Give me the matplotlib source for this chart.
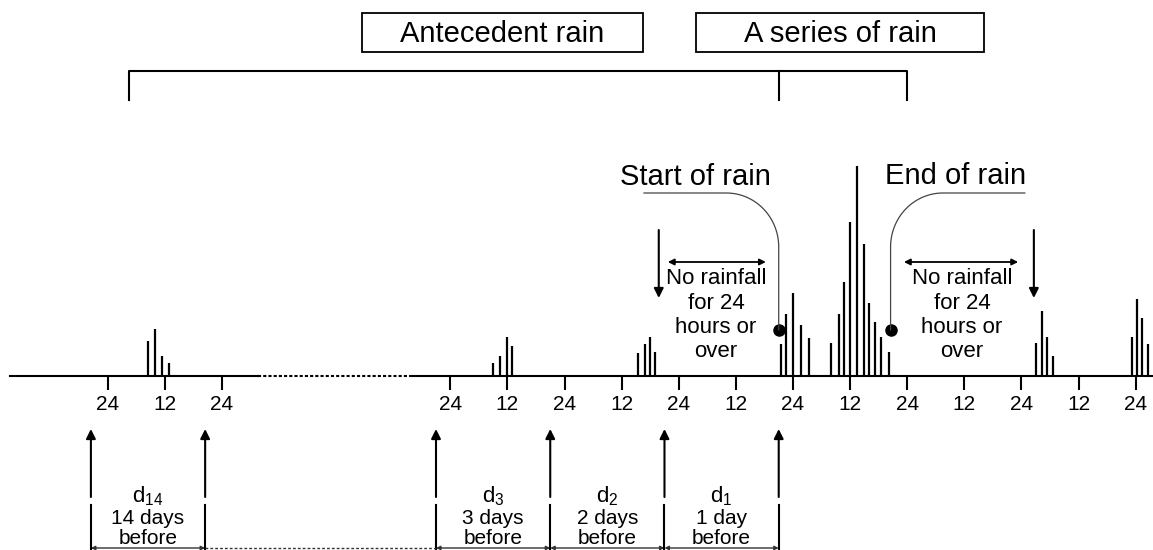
import numpy as np
import matplotlib
matplotlib.use("Agg")
import matplotlib.pyplot as plt
from matplotlib.patches import Rectangle, FancyArrowPatch

plt.rcParams['font.family'] = ['Liberation Sans', 'DejaVu Sans']
plt.rcParams['mathtext.fontset'] = 'custom'
plt.rcParams['mathtext.rm'] = 'Liberation Sans'
plt.rcParams['mathtext.it'] = 'Liberation Sans'

# time axis in hours (0 = midnight at start of the rain series), axis is broken
# between the 14-days-before block and the 3-days-before block
tick_hours = [-144, -132, -120, -72, -60, -48, -36, -24, -12, 0, 12, 24, 36, 48, 60, 72]
tick_labels = ["24", "12", "24", "24", "12", "24", "12", "24", "12", "24", "12", "24", "12", "24", "12", "24"]

# rainfall bars (hour, relative height)
rain_hours = [-135.5, -134, -132.5, -131,
              -63, -61.5, -60, -59,
              -32.5, -31, -30, -29,
              -2.5, -1.5, 0, 1.7, 3.4,
              8, 9.7, 10.7, 12, 13.4, 14.9, 16, 17.2, 18.5, 20.2,
              51, 52.3, 53.4, 54.6,
              71.2, 72.3, 73.3, 74.6]
rain_height = [35, 47, 20, 13,
               13, 20, 39, 30,
               23, 32, 39, 24,
               32, 62, 83, 51, 38,
               33, 62, 94, 154, 210, 132, 73, 54, 39, 24,
               33, 65, 39, 20,
               39, 77, 58, 32]

start_rain = -3.0
end_rain = 20.5
series_end = 24.0
antecedent_start = -139.5

# day boundaries for the antecedent rain (d14 ... d1)
day_bounds = [-147.5, -123.5, -75, -51, -27, -3]
day_names = [r"d$_{14}$", r"d$_{3}$", r"d$_{2}$", r"d$_{1}$"]
day_text = ["14 days", "3 days", "2 days", "1 day"]
day_pairs = [(0, 1), (2, 3), (3, 4), (4, 5)]

px_per_h = 4.76
x0_px = 793

fig = plt.figure(figsize=(11.53, 5.5), dpi=100)
ax = fig.add_axes([0, 0, 1, 1])
ax.set_xlim(-x0_px / px_per_h, (1153 - x0_px) / px_per_h)
ax.set_ylim(-174, 376)
ax.axis("off")

k = "black"
# baseline with dotted break
ax.plot([-164.5, -112.4], [0, 0], color=k, lw=1.5)
ax.plot([-112.4, -79.8], [0, 0], color=k, lw=1.5, ls=(0, (1.5, 1)))
ax.plot([-79.8, 75.6], [0, 0], color=k, lw=1.5)

# ticks and labels
ax.vlines(tick_hours, -14, 0, color=k, lw=1.5)
for h, lab in zip(tick_hours, tick_labels):
    ax.text(h, -29, lab, ha="center", va="center", fontsize=15)

# rain bars
ax.vlines(rain_hours, 0, rain_height, color=k, lw=1.6)

# start / end of rain markers with curved leaders
ax.plot([start_rain, end_rain], [46, 46], "o", color=k, ms=8)
rx, ry, y_top = 11.0, 54.0, 183.0
th = np.linspace(0, np.pi / 2, 40)
xs = np.concatenate([[start_rain], start_rain - rx + rx * np.cos(th), [-31.3]])
ys = np.concatenate([[46], (y_top - ry) + ry * np.sin(th), [y_top]])
ax.plot(xs, ys, color="#444444", lw=0.9)
th2 = np.linspace(np.pi, np.pi / 2, 40)
xs = np.concatenate([[end_rain], end_rain + rx + rx * np.cos(th2), [48.7]])
ys = np.concatenate([[46], (y_top - ry) + ry * np.sin(th2), [y_top]])
ax.plot(xs, ys, color="#444444", lw=0.9)
ax.text(-20.4, 191, "Start of rain", ha="center", va="baseline", fontsize=21)
ax.text(34.2, 192, "End of rain", ha="center", va="baseline", fontsize=21)

# no rainfall notes
lines = ["No rainfall", "for 24", "hours or", "over"]
for xc, xa, xb, xdown in [(-16.2, -26.3, -5.7, -28.2), (35.5, 23.3, 47.3, 50.6)]:
    for i, t in enumerate(lines):
        ax.text(xc, 97 - 24.3 * i, t, ha="center", va="center", fontsize=16)
    ax.add_patch(FancyArrowPatch((xa, 114), (xb, 114), arrowstyle="<|-|>",
                                 mutation_scale=9, color=k, lw=1.3, shrinkA=0, shrinkB=0))
    ax.add_patch(FancyArrowPatch((xdown, 146), (xdown, 78), arrowstyle="-|>",
                                 mutation_scale=14, color=k, lw=1.5, shrinkA=0, shrinkB=0))

# top boxes and bracket
ax.add_patch(Rectangle((-90.5, 324), 59.0, 39, fill=False, ec=k, lw=1.3))
ax.add_patch(Rectangle((-20.4, 324), 60.5, 39, fill=False, ec=k, lw=1.3))
ax.text(-61.1, 342, "Antecedent rain", ha="center", va="center", fontsize=21)
ax.text(9.9, 342, "A series of rain", ha="center", va="center", fontsize=21)
ax.plot([antecedent_start, antecedent_start, series_end, series_end],
        [276, 305, 305, 276], color=k, lw=1.5)
ax.plot([start_rain, start_rain], [305, 276], color=k, lw=1.5)

# day boundary arrows at the bottom
for xb in day_bounds:
    ax.add_patch(FancyArrowPatch((xb, -121), (xb, -53), arrowstyle="-|>",
                                 mutation_scale=14, color=k, lw=1.5, shrinkA=0, shrinkB=0))
    ax.plot([xb, xb], [-129, -174], color=k, lw=1.5)

for (a, b), nm, tx in zip(day_pairs, day_names, day_text):
    xc = (day_bounds[a] + day_bounds[b]) / 2
    ax.text(xc, -120, nm, ha="center", va="center", fontsize=16)
    ax.text(xc, -143, tx, ha="center", va="center", fontsize=15)
    ax.text(xc, -163, "before", ha="center", va="center", fontsize=15)
    ax.add_patch(FancyArrowPatch((day_bounds[a], -172), (day_bounds[b], -172), arrowstyle="<|-|>",
                                 mutation_scale=6, color="#333333", lw=1.0, shrinkA=0, shrinkB=0))
ax.plot([day_bounds[1], day_bounds[2]], [-172, -172], color="#333333", lw=1.0, ls=(0, (2, 1.5)))

fig.savefig("out.png", dpi=100)
